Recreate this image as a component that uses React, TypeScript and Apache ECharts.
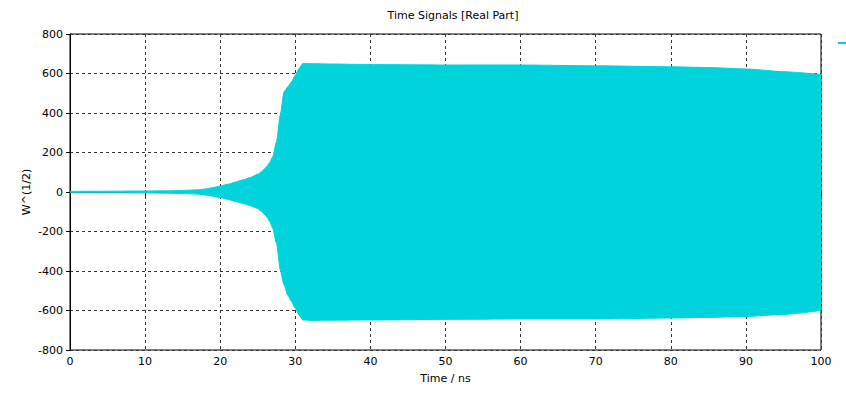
import React, { useEffect, useRef } from "react";
import * as echarts from "echarts";

const times = [0, 5, 10, 13, 15, 17, 18, 19, 20, 21, 22, 23, 24, 25, 25.5, 26, 26.3, 26.6, 27, 27.5, 28, 28.5, 29, 29.5, 30, 30.5, 31, 32, 35, 40, 50, 60, 70, 80, 85, 90, 95, 100];
const upperEnv = [3, 4, 5, 6, 8, 11, 15, 22, 30, 39, 50, 61, 73, 90, 103, 120, 134, 150, 179, 255, 390, 508, 533, 558, 592, 626, 651, 650, 648, 645, 643, 643, 639, 634, 630, 623, 609, 595];
const lowerEnv = [-3, -4, -5, -6, -8, -11, -15, -21, -28, -37, -48, -58, -69, -83, -98, -116, -132, -150, -184, -260, -395, -471, -522, -555, -589, -623, -648, -650, -649, -648, -645, -643, -643, -638, -635, -630, -620, -600];
const xTicks = [0, 10, 20, 30, 40, 50, 60, 70, 80, 90, 100];
const yTicks = [-800, -600, -400, -200, 0, 200, 400, 600, 800];

const CYAN = "#00d3dc";

export default function App() {
  const ref = useRef<HTMLDivElement>(null);
  useEffect(() => {
    if (!ref.current) return;
    const chart = echarts.init(ref.current, undefined, { renderer: "svg" });
    const font = "Tahoma, 'DejaVu Sans', sans-serif";
    const upper = times.map((t, i) => [t, upperEnv[i]]);
    const lower = times.map((t, i) => [t, lowerEnv[i]]);
    chart.setOption({
      animation: false,
      backgroundColor: "#ffffff",
      textStyle: { fontFamily: font },
      title: {
        text: "Time Signals [Real Part]",
        left: 448,
        top: 5,
        textAlign: "center",
        textStyle: { fontSize: 11, fontWeight: "normal", color: "#000", fontFamily: font },
      },
      legend: {
        data: [{ name: "Signal", icon: "rect" }],
        left: 833,
        top: 37,
        itemWidth: 14,
        itemHeight: 2,
        itemGap: 0,
        formatter: () => "",
        selectedMode: false,
      },
      grid: {
        left: 70,
        right: 25,
        top: 34,
        bottom: 45,
        show: true,
        borderColor: "#000",
        borderWidth: 1,
        backgroundColor: "transparent",
      },
      xAxis: {
        type: "value",
        min: 0,
        max: 100,
        interval: 10,
        name: "Time / ns",
        nameLocation: "middle",
        nameGap: 23,
        nameTextStyle: { fontSize: 11, color: "#000", fontFamily: font },
        axisLine: { show: true, lineStyle: { color: "#000", width: 1 } },
        axisTick: { show: true, length: 4, lineStyle: { color: "#000" } },
        axisLabel: {
          fontSize: 11,
          color: "#000",
          margin: 6,
          fontFamily: font,
          customValues: xTicks,
        },
        splitLine: { show: true, lineStyle: { color: "#333", type: [3, 3], width: 1 } },
      },
      yAxis: {
        type: "value",
        min: -800,
        max: 800,
        interval: 200,
        name: "W^(1/2)",
        nameLocation: "middle",
        nameGap: 38,
        nameMoveOverlap: false,
        nameRotate: 90,
        nameTextStyle: { fontSize: 11, color: "#000", fontFamily: font },
        axisLine: { show: true, lineStyle: { color: "#000", width: 1 } },
        axisTick: { show: true, length: 4, lineStyle: { color: "#000" } },
        axisLabel: { fontSize: 11, color: "#000", margin: 7, fontFamily: font, customValues: yTicks },
        splitLine: { show: true, lineStyle: { color: "#333", type: [3, 3], width: 1 } },
      },
      series: [
        {
          name: "Signal",
          type: "line",
          data: upper,
          showSymbol: false,
          smooth: 0.2,
          smoothMonotone: "x",
          lineStyle: { color: CYAN, width: 1 },
          itemStyle: { color: CYAN },
          areaStyle: { color: CYAN, opacity: 1, origin: 0 },
          z: 3,
        },
        {
          name: "SignalLower",
          type: "line",
          data: lower,
          showSymbol: false,
          smooth: 0.2,
          smoothMonotone: "x",
          lineStyle: { color: CYAN, width: 1 },
          itemStyle: { color: CYAN },
          areaStyle: { color: CYAN, opacity: 1, origin: 0 },
          z: 3,
        },
      ],
    });
    return () => chart.dispose();
  }, []);
  return <div ref={ref} style={{ position: "fixed", left: 0, top: 0, width: 846, height: 395 }} />;
}
